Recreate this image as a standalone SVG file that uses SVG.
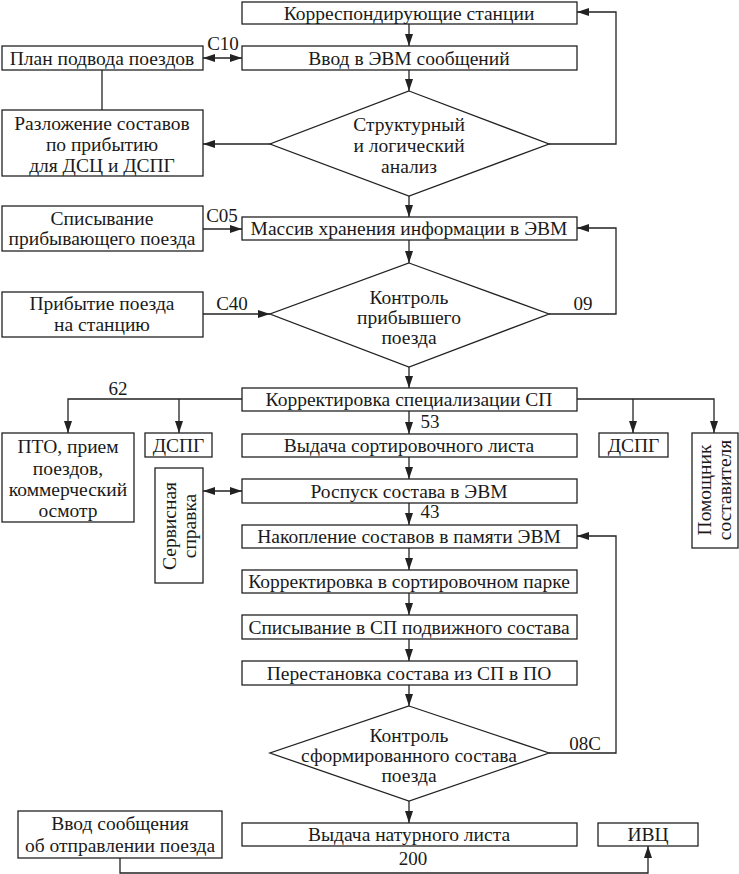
<svg xmlns="http://www.w3.org/2000/svg" width="739" height="874" viewBox="0 0 739 874">
<style>
.b{fill:#fff;stroke:#222;stroke-width:1.3}
.t{font-family:"Liberation Serif","Times New Roman",serif;font-size:19.5px;fill:#1a1a1a;text-anchor:middle}
.l{font-family:"Liberation Serif","Times New Roman",serif;font-size:19px;fill:#1a1a1a;text-anchor:middle}
.c{fill:none;stroke:#222;stroke-width:1.3}
</style>
<defs>
<marker id="ah" markerUnits="userSpaceOnUse" markerWidth="12" markerHeight="8" refX="12" refY="4" orient="auto-start-reverse">
<path d="M0,0 L12,4 L0,8 z" fill="#222"/>
</marker>
</defs>
<rect width="739" height="874" fill="#fff"/>
<g id="connectors">
<path class="c" d="M409,24 V46" marker-end="url(#ah)"/>
<path class="c" d="M203,58 H242" marker-start="url(#ah)" marker-end="url(#ah)"/>
<path class="c" d="M102,70 V110"/>
<path class="c" d="M409,70 V91" marker-end="url(#ah)"/>
<path class="c" d="M270,144 H203" marker-end="url(#ah)"/>
<path class="c" d="M549,144 H616 V12 H577" marker-end="url(#ah)"/>
<path class="c" d="M409,196 V217" marker-end="url(#ah)"/>
<path class="c" d="M203,229 H242" marker-end="url(#ah)"/>
<path class="c" d="M409,240 V263" marker-end="url(#ah)"/>
<path class="c" d="M203,314 H270" marker-end="url(#ah)"/>
<path class="c" d="M549,314 H616 V228 H577" marker-end="url(#ah)"/>
<path class="c" d="M409,367 V388" marker-end="url(#ah)"/>
<path class="c" d="M242,399 H68 V433" marker-end="url(#ah)"/>
<path class="c" d="M179,399 V433" marker-end="url(#ah)"/>
<path class="c" d="M577,399 H714 V433" marker-end="url(#ah)"/>
<path class="c" d="M633,399 V433" marker-end="url(#ah)"/>
<path class="c" d="M409,411 V434" marker-end="url(#ah)"/>
<path class="c" d="M409,457 V479" marker-end="url(#ah)"/>
<path class="c" d="M203,491 H242" marker-start="url(#ah)" marker-end="url(#ah)"/>
<path class="c" d="M409,503 V525" marker-end="url(#ah)"/>
<path class="c" d="M409,548 V570" marker-end="url(#ah)"/>
<path class="c" d="M409,593 V615" marker-end="url(#ah)"/>
<path class="c" d="M409,639 V661" marker-end="url(#ah)"/>
<path class="c" d="M409,685 V706" marker-end="url(#ah)"/>
<path class="c" d="M549,753 H616 V536 H577" marker-end="url(#ah)"/>
<path class="c" d="M409,801 V823" marker-end="url(#ah)"/>
<path class="c" d="M120,858 V873 H648 V846" marker-end="url(#ah)"/>
<text class="l" x="223" y="50">С10</text>
<text class="l" x="222" y="222">С05</text>
<text class="l" x="232" y="310">С40</text>
<text class="l" x="583" y="310">09</text>
<text class="l" x="118" y="395">62</text>
<text class="l" x="430" y="428">53</text>
<text class="l" x="430" y="518">43</text>
<text class="l" x="585" y="750">08С</text>
<text class="l" x="413" y="865">200</text>
</g>
<g id="n1"><rect class="b" x="242" y="2" width="335" height="22"/><text class="t" x="409" y="19.5">Корреспондирующие станции</text></g>
<g id="n2"><rect class="b" x="242" y="46" width="335" height="24"/><text class="t" x="409" y="64.5">Ввод в ЭВМ сообщений</text></g>
<g id="n3"><rect class="b" x="2" y="46" width="201" height="24"/><text class="t" x="102" y="64.5">План подвода поездов</text></g>
<g id="n4"><rect class="b" x="2" y="110" width="201" height="66"/><text class="t" x="102" y="129.5">Разложение составов</text><text class="t" x="102" y="151">по прибытию</text><text class="t" x="102" y="172">для ДСЦ и ДСПГ</text></g>
<g id="d1"><polygon class="b" points="409,91 549,144 409,196 270,144"/><text class="t" x="409" y="131">Структурный</text><text class="t" x="409" y="152">и логический</text><text class="t" x="409" y="173">анализ</text></g>
<g id="n5"><rect class="b" x="242" y="217" width="335" height="23"/><text class="t" x="409" y="235">Массив хранения информации в ЭВМ</text></g>
<g id="n6"><rect class="b" x="2" y="206" width="201" height="45"/><text class="t" x="102" y="224.5">Списывание</text><text class="t" x="102" y="244.5">прибывающего поезда</text></g>
<g id="d2"><polygon class="b" points="409,263 549,314 409,367 270,314"/><text class="t" x="409" y="303.5">Контроль</text><text class="t" x="409" y="324">прибывшего</text><text class="t" x="409" y="344">поезда</text></g>
<g id="n7"><rect class="b" x="2" y="292" width="201" height="45"/><text class="t" x="102" y="309.5">Прибытие поезда</text><text class="t" x="102" y="331">на станцию</text></g>
<g id="n8"><rect class="b" x="242" y="388" width="335" height="23"/><text class="t" x="409" y="405.5">Корректировка специализации СП</text></g>
<g id="n9"><rect class="b" x="2" y="433" width="132" height="89"/><text class="t" x="68" y="452.5">ПТО, прием</text><text class="t" x="68" y="474.5">поездов,</text><text class="t" x="68" y="496">коммерческий</text><text class="t" x="68" y="517">осмотр</text></g>
<g id="n10"><rect class="b" x="145" y="433" width="67" height="24"/><text class="t" x="178.5" y="451.5">ДСПГ</text></g>
<g id="n11"><rect class="b" x="599" y="433" width="69" height="24"/><text class="t" x="633.5" y="451.5">ДСПГ</text></g>
<g id="n12"><rect class="b" x="692" y="433" width="46" height="115"/><text class="t" transform="translate(711,490) rotate(-90)">Помощник</text><text class="t" transform="translate(731,490) rotate(-90)">составителя</text></g>
<g id="n13"><rect class="b" x="155" y="468" width="48" height="115"/><text class="t" transform="translate(176,526) rotate(-90)">Сервисная</text><text class="t" transform="translate(196,526) rotate(-90)">справка</text></g>
<g id="n14"><rect class="b" x="242" y="434" width="335" height="23"/><text class="t" x="409" y="451.5">Выдача сортировочного листа</text></g>
<g id="n15"><rect class="b" x="242" y="479" width="335" height="24"/><text class="t" x="409" y="497.5">Роспуск состава в ЭВМ</text></g>
<g id="n16"><rect class="b" x="242" y="525" width="335" height="23"/><text class="t" x="409" y="542.5">Накопление составов в памяти ЭВМ</text></g>
<g id="n17"><rect class="b" x="242" y="570" width="335" height="23"/><text class="t" x="409" y="587.5">Корректировка в сортировочном парке</text></g>
<g id="n18"><rect class="b" x="242" y="615" width="335" height="24"/><text class="t" x="409" y="633.5">Списывание в СП подвижного состава</text></g>
<g id="n19"><rect class="b" x="242" y="661" width="335" height="24"/><text class="t" x="409" y="679.5">Перестановка состава из СП в ПО</text></g>
<g id="d3"><polygon class="b" points="409,706 549,753 409,801 270,753"/><text class="t" x="409" y="742">Контроль</text><text class="t" x="409" y="762">сформированного состава</text><text class="t" x="409" y="782">поезда</text></g>
<g id="n20"><rect class="b" x="242" y="823" width="335" height="23"/><text class="t" x="409" y="840.5">Выдача натурного листа</text></g>
<g id="n21"><rect class="b" x="18" y="811" width="204" height="47"/><text class="t" x="120" y="829.5">Ввод сообщения</text><text class="t" x="120" y="851.5">об отправлении поезда</text></g>
<g id="n22"><rect class="b" x="598" y="823" width="100" height="23"/><text class="t" x="648" y="840.5">ИВЦ</text></g>
</svg>
